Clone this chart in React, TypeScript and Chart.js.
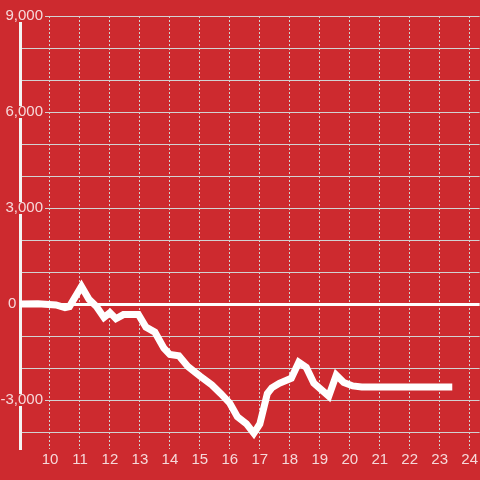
import React, { useEffect, useRef } from "react";
import { Chart, registerables } from "chart.js";

Chart.register(...registerables);

// ---- data ----
const xValues = [
  8.85, 9.6, 10.2, 10.5, 10.65, 11.05, 11.3, 11.55, 11.8, 12.0, 12.2, 12.45, 12.95,
  13.2, 13.5, 13.8, 14.0, 14.3, 14.6, 15.0, 15.4, 15.7, 16.0, 16.25, 16.55, 16.8,
  17.0, 17.25, 17.4, 17.65, 18.05, 18.3, 18.55, 18.8, 19.3, 19.55, 19.8, 20.1, 20.4, 23.42,
];
const yValues = [
  0, 10, -30, -110, -80, 550, 150, -80, -420, -270, -460, -330, -330,
  -720, -880, -1380, -1580, -1620, -1950, -2250, -2530, -2800, -3100, -3520, -3740, -4040,
  -3750, -2800, -2620, -2480, -2320, -1820, -1980, -2470, -2880, -2220, -2450, -2560, -2590, -2590,
];
const xTickValues = [10, 11, 12, 13, 14, 15, 16, 17, 18, 19, 20, 21, 22, 23, 24];
const yGridValues = [-4000, -3000, -2000, -1000, 0, 1000, 2000, 3000, 4000, 5000, 6000, 7000, 8000, 9000];
const yLabelValues = [-3000, 0, 3000, 6000, 9000];

const X_MIN = 9;
const X_MAX = 24.333;
const Y_MIN = -4531;
const Y_MAX = 9000;

const RED = "#cd2a2f";
const LABEL = "rgba(255,255,255,0.82)";
const GRID = "#d2d2d2";
const FONT = "'Liberation Sans', Arial, sans-serif";

export default function App() {
  const ref = useRef<HTMLCanvasElement | null>(null);

  useEffect(() => {
    if (!ref.current) return;
    const points = xValues.map((x, i) => ({ x, y: yValues[i] }));
    const chart = new Chart(ref.current, {
      type: "line",
      data: {
        datasets: [
          {
            data: points,
            borderColor: "#ffffff",
            borderWidth: 7,
            pointRadius: 0,
            tension: 0,
            borderCapStyle: "butt",
            fill: false,
          },
        ],
      },
      options: {
        animation: false,
        responsive: false,
        devicePixelRatio: 1,
        layout: { padding: { top: 16, left: 0, right: 0, bottom: 0 } },
        plugins: { legend: { display: false }, tooltip: { enabled: false } },
        scales: {
          x: {
            type: "linear",
            min: X_MIN,
            max: X_MAX,
            afterBuildTicks: (s: any) => {
              s.ticks = xTickValues.map((v) => ({ value: v }));
            },
            afterFit: (s: any) => {
              s.height = 31;
            },
            grid: { color: GRID, lineWidth: 1, drawTicks: false },
            border: { display: false, dash: [2, 2] },
            ticks: {
              padding: 2,
              color: LABEL,
              font: { family: FONT, size: 15 },
              maxRotation: 0,
              autoSkip: false,
              callback: (v: any) => String(v),
            },
          },
          y: {
            type: "linear",
            min: Y_MIN,
            max: Y_MAX,
            afterBuildTicks: (s: any) => {
              s.ticks = yGridValues.map((v) => ({ value: v }));
            },
            afterFit: (s: any) => {
              s.width = 20;
              // let the labels overlap the plot area instead of being clipped to the axis box
              s._computeLabelArea = () => undefined;
            },
            grid: {
              color: (ctx: any) => (ctx.tick && ctx.tick.value === 0 ? "#ffffff" : GRID),
              lineWidth: (ctx: any) => (ctx.tick && ctx.tick.value === 0 ? 3 : 1),
              drawTicks: false,
            },
            border: { display: true, color: "#f4f4f4", width: 3 },
            ticks: {
              padding: -23,
              crossAlign: "near",
              color: LABEL,
              autoSkip: false,
              font: { family: FONT, size: 15, lineHeight: 0.8 },
              showLabelBackdrop: true,
              backdropPadding: { left: 2, right: 2, top: 0, bottom: 0 },
              backdropColor: (ctx: any) => {
                const v = ctx.tick ? ctx.tick.value : null;
                return v !== null && v !== 0 && yLabelValues.includes(v) ? RED : "rgba(0,0,0,0)";
              },
              callback: (v: any) => {
                const n = Number(v);
                if (!yLabelValues.includes(n)) return "";
                if (n === 0) return "0\u2002\u2002\u2002 ";
                return n.toLocaleString("en-US");
              },
            },
          },
        },
      },
    } as any);
    return () => chart.destroy();
  }, []);

  return (
    <div
      style={{
        position: "fixed",
        left: 0,
        top: 0,
        width: 480,
        height: 480,
        background: RED,
      }}
    >
      <canvas ref={ref} width={480} height={480} style={{ display: "block" }} />
    </div>
  );
}
